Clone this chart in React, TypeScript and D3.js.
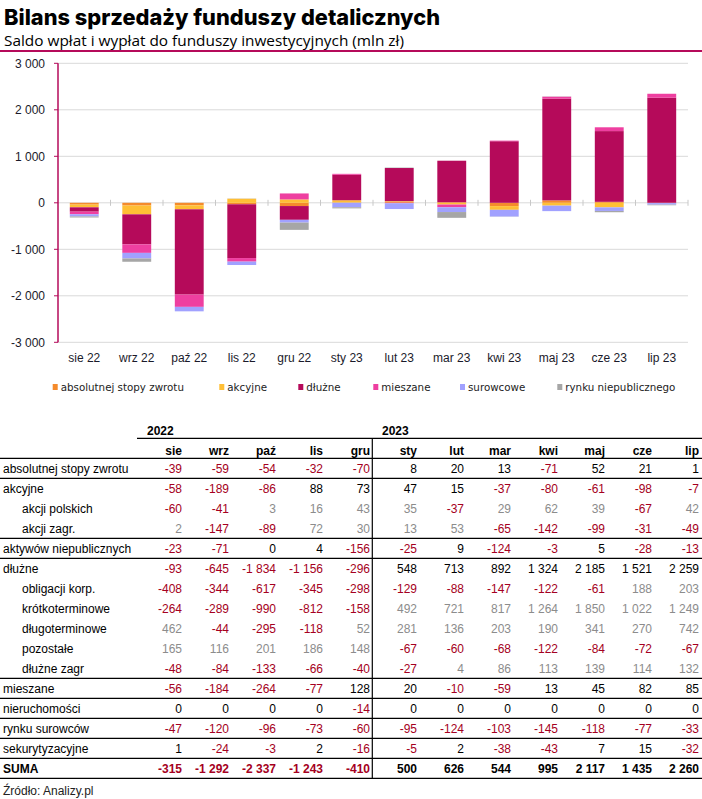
import React from "react";
import * as d3 from "d3";

const months = ["sie", "wrz", "paź", "lis", "gru", "sty", "lut", "mar", "kwi", "maj", "cze", "lip"];
const monthLabels = ["sie 22", "wrz 22", "paź 22", "lis 22", "gru 22", "sty 23", "lut 23", "mar 23", "kwi 23", "maj 23", "cze 23", "lip 23"];
const yTicks = [-3000, -2000, -1000, 0, 1000, 2000, 3000];

const absolutnej = [-39, -59, -54, -32, -70, 8, 20, 13, -71, 52, 21, 1];
const akcyjne = [-58, -189, -86, 88, 73, 47, 15, -37, -80, -61, -98, -7];
const akcjiPolskich = [-60, -41, 3, 16, 43, 35, -37, 29, 62, 39, -67, 42];
const akcjiZagr = [2, -147, -89, 72, 30, 13, 53, -65, -142, -99, -31, -49];
const niepubliczne = [-23, -71, 0, 4, -156, -25, 9, -124, -3, 5, -28, -13];
const dluzne = [-93, -645, -1834, -1156, -296, 548, 713, 892, 1324, 2185, 1521, 2259];
const obligacjiKorp = [-408, -344, -617, -345, -298, -129, -88, -147, -122, -61, 188, 203];
const krotko = [-264, -289, -990, -812, -158, 492, 721, 817, 1264, 1850, 1022, 1249];
const dlugo = [462, -44, -295, -118, 52, 281, 136, 203, 190, 341, 270, 742];
const pozostale = [165, 116, 201, 186, 148, -67, -60, -68, -122, -84, -72, -67];
const dluzneZagr = [-48, -84, -133, -66, -40, -27, 4, 86, 113, 139, 114, 132];
const mieszane = [-56, -184, -264, -77, 128, 20, -10, -59, 13, 45, 82, 85];
const nieruchomosci = [0, 0, 0, 0, -14, 0, 0, 0, 0, 0, 0, 0];
const surowcow = [-47, -120, -96, -73, -60, -95, -124, -103, -145, -118, -77, -33];
const sekurytyzacyjne = [1, -24, -3, 2, -16, -5, 2, -38, -43, 7, 15, -32];
const suma = [-315, -1292, -2337, -1243, -410, 500, 626, 544, 995, 2117, 1435, 2260];

const seriesKeys = ["absolutnej stopy zwrotu", "akcyjne", "dłużne", "mieszane", "surowcowe", "rynku niepublicznego"];
const seriesValues = [absolutnej, akcyjne, dluzne, mieszane, surowcow, niepubliczne];
const seriesColors = ["#F58B2C", "#FFBF35", "#B50A5A", "#EE3FA0", "#A1A1FF", "#A6A6A6"];

const tableRows: { label: string; values: number[]; sub?: boolean; bold?: boolean }[] = [
  { label: "absolutnej stopy zwrotu", values: absolutnej },
  { label: "akcyjne", values: akcyjne },
  { label: "akcji polskich", values: akcjiPolskich, sub: true },
  { label: "akcji zagr.", values: akcjiZagr, sub: true },
  { label: "aktywów niepublicznych", values: niepubliczne },
  { label: "dłużne", values: dluzne },
  { label: "obligacji korp.", values: obligacjiKorp, sub: true },
  { label: "krótkoterminowe", values: krotko, sub: true },
  { label: "długoterminowe", values: dlugo, sub: true },
  { label: "pozostałe", values: pozostale, sub: true },
  { label: "dłużne zagr", values: dluzneZagr, sub: true },
  { label: "mieszane", values: mieszane },
  { label: "nieruchomości", values: nieruchomosci },
  { label: "rynku surowców", values: surowcow },
  { label: "sekurytyzacyjne", values: sekurytyzacyjne },
  { label: "SUMA", values: suma, bold: true },
];
const rowLinesAfter = [0, 3, 4, 10, 11, 12, 13, 14, 15];

const MAGENTA = "#B50A5A";
const RED = "#A50021";
const GRAY = "#8C8C8C";
const FONT = "'Liberation Sans', Arial, sans-serif";

const loc = d3.formatLocale({ decimal: ",", thousands: " ", grouping: [3], currency: ["", ""], minus: "-" });
const fmt = loc.format(",d");

export default function App() {
  const x = d3.scaleBand<string>().domain(monthLabels).range([58, 688]).paddingInner(0.45).paddingOuter(0.225);
  const y = d3.scaleLinear().domain([-3000, 3000]).range([342.3, 63.3]);

  const data = monthLabels.map((m, i) => {
    const o: any = { month: m };
    seriesKeys.forEach((k, j) => (o[k] = seriesValues[j][i]));
    return o;
  });
  const stacked = d3.stack<any>().keys(seriesKeys).offset(d3.stackOffsetDiverging)(data);

  const step = x.step();
  const y0 = y(0);

  const tx = d3.scaleBand<string>().domain(months).range([135, 699]);
  const rowTop = (i: number) => 458.3 + 20 * i;

  const legendX = [52.7, 219.3, 298.3, 373.3, 460, 557.3];

  return (
    <svg width={702} height={799} style={{ position: "absolute", left: 0, top: 0, display: "block", background: "#fff" }} fontFamily={FONT}>
      <rect width={702} height={799} fill="#fff" />
      <text x={4} y={25} fontFamily="Inter, 'Open Sans', sans-serif" fontWeight={800} fontSize={22} fill="#000" textLength={436} lengthAdjust="spacingAndGlyphs">
        Bilans sprzedaży funduszy detalicznych
      </text>
      <text x={4} y={46} fontFamily="'Open Sans', sans-serif" fontSize={14} fill="#000" textLength={400} lengthAdjust="spacingAndGlyphs">
        Saldo wpłat i wypłat do funduszy inwestycyjnych (mln zł)
      </text>
      <line x1={0} x2={702} y1={51} y2={51} stroke={MAGENTA} strokeWidth={2} />

      {yTicks.map((t) => (
        <g key={t}>
          <line x1={58} x2={688} y1={y(t)} y2={y(t)} stroke="#D9D9D9" strokeWidth={1} />
          <line x1={54} x2={58} y1={y(t)} y2={y(t)} stroke={MAGENTA} strokeWidth={1} />
          <text x={45} y={y(t) + 4.5} textAnchor="end" fontSize={12} fill="#1a1a2a">
            {fmt(t)}
          </text>
        </g>
      ))}
      {monthLabels.map((m, i) =>
        i > 0 ? (
          <line key={m} x1={58 + step * i} x2={58 + step * i} y1={y0 - 3} y2={y0 + 3} stroke="#C8C8C8" strokeWidth={1} />
        ) : null
      )}
      <line x1={688} x2={688} y1={y0 - 3} y2={y0 + 3} stroke="#C8C8C8" strokeWidth={1} />

      {stacked.map((s, j) => (
        <g key={s.key} fill={seriesColors[j]}>
          {s.map((d, i) => {
            const top = y(Math.max(d[0], d[1]));
            const bot = y(Math.min(d[0], d[1]));
            if (bot - top <= 0) return null;
            return <rect key={i} x={x(monthLabels[i])} width={x.bandwidth()} y={top} height={bot - top} />;
          })}
        </g>
      ))}

      <line x1={58} x2={58} y1={y(3000)} y2={y(-3000)} stroke={MAGENTA} strokeWidth={1.5} />

      {monthLabels.map((m) => (
        <text key={m} x={(x(m) as number) + x.bandwidth() / 2} y={361.5} textAnchor="middle" fontSize={12} fill="#1a1a2a">
          {m}
        </text>
      ))}

      {seriesKeys.map((k, j) => (
        <g key={k}>
          <rect x={legendX[j]} y={384} width={5} height={6} fill={seriesColors[j]} />
          <text x={legendX[j] + 8} y={391} fontFamily="'DejaVu Sans', Verdana, sans-serif" fontSize={10.3} fill="#222">
            {k}
          </text>
        </g>
      ))}

      <text x={147} y={434.5} fontSize={12} fontWeight="bold" fill="#000">2022</text>
      <text x={382} y={434.5} fontSize={12} fontWeight="bold" fill="#000">2023</text>
      <line x1={137} x2={702} y1={438.3} y2={438.3} stroke="#000" strokeWidth={1.2} />
      {months.map((m) => (
        <text key={m} x={(tx(m) as number) + tx.bandwidth()} y={454.5} textAnchor="end" fontSize={12} fontWeight="bold" fill="#000">
          {m}
        </text>
      ))}
      <line x1={0} x2={702} y1={458.3} y2={458.3} stroke="#000" strokeWidth={1.2} />
      <line x1={372.3} x2={372.3} y1={438.3} y2={778.3} stroke="#000" strokeWidth={1.2} />

      {tableRows.map((r, i) => (
        <g key={r.label}>
          <text x={r.sub ? 22 : 3} y={rowTop(i) + 15} fontSize={12} fontWeight={r.bold ? "bold" : "normal"} fill="#000">
            {r.label}
          </text>
          {r.values.map((v, k) => (
            <text
              key={k}
              x={(tx(months[k]) as number) + tx.bandwidth()}
              y={rowTop(i) + 15}
              textAnchor="end"
              fontSize={12}
              fontWeight={r.bold ? "bold" : "normal"}
              fill={v < 0 ? RED : r.sub ? GRAY : "#000"}
            >
              {fmt(v)}
            </text>
          ))}
        </g>
      ))}
      {rowLinesAfter.map((i) => (
        <line key={i} x1={0} x2={702} y1={rowTop(i) + 20} y2={rowTop(i) + 20} stroke="#000" strokeWidth={1.2} />
      ))}

      <text x={3} y={794.5} fontSize={12} fill="#222">Źródło: Analizy.pl</text>
    </svg>
  );
}
